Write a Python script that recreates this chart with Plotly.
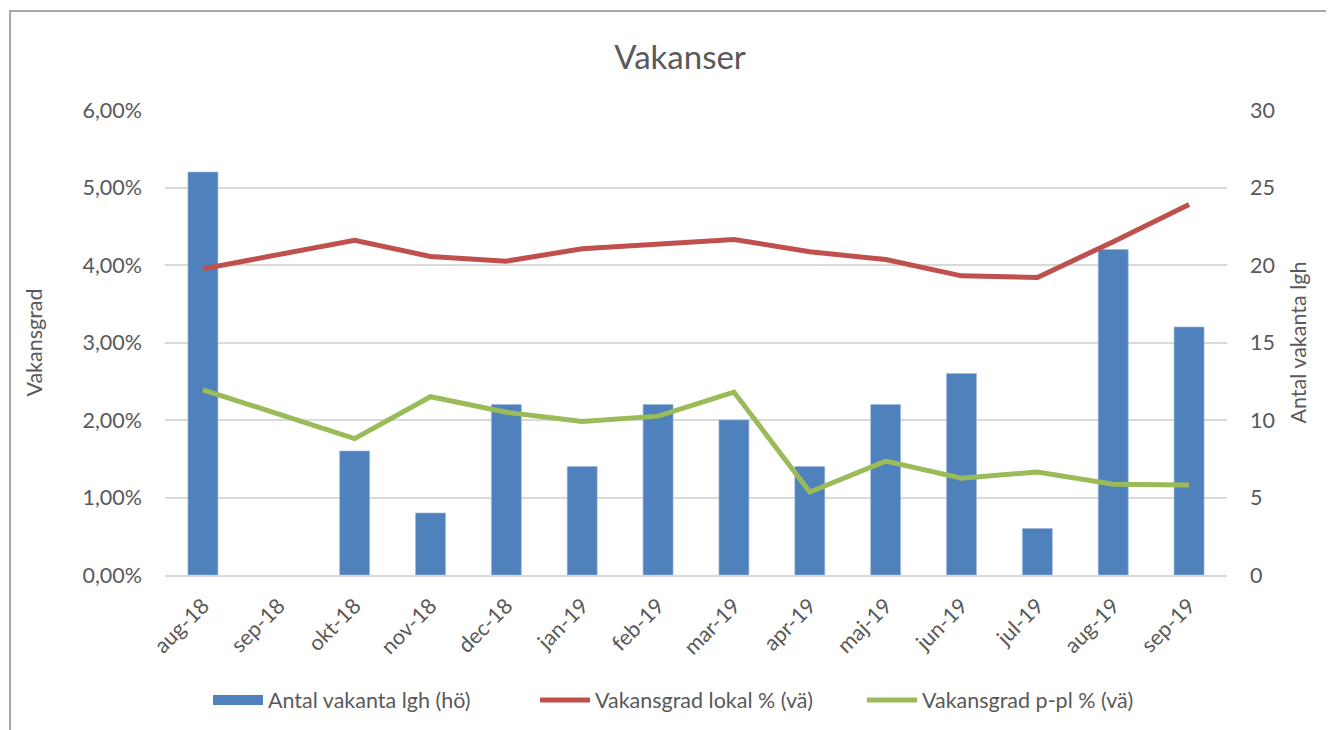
import plotly.graph_objects as go

months = ["aug-18", "sep-18", "okt-18", "nov-18", "dec-18", "jan-19", "feb-19",
          "mar-19", "apr-19", "maj-19", "jun-19", "jul-19", "aug-19", "sep-19"]
antal_vakanta = [26, None, 8, 4, 11, 7, 11, 10, 7, 11, 13, 3, 21, 16]
vakansgrad_lokal = [0.0395, None, 0.0432, 0.0411, 0.0405, 0.0421, 0.0427,
                    0.0433, 0.0417, 0.0407, 0.0386, 0.0384, 0.0430, 0.0478]
vakansgrad_ppl = [0.0239, None, 0.0176, 0.0230, 0.0210, 0.0198, 0.0205,
                  0.0236, 0.0107, 0.0147, 0.0125, 0.0133, 0.0117, 0.0116]

FONT = "Lato"
TXT = "#595959"
GRID = "#D9D9D9"
BLUE = "#4F81BD"

# page offset compensation (browser body margin)
OFF = 8
L, T, PW, PH = 165 - OFF, 110 - OFF, 1062, 465

fig = go.Figure()
fig.add_trace(go.Bar(
    x=months, y=antal_vakanta, name="Antal vakanta lgh (hö)",
    marker=dict(color=BLUE, line=dict(color="#9DB7DA", width=0.6)),
    yaxis="y", showlegend=False))
# legend swatch for the bars (wide rectangle like the original)
fig.add_trace(go.Scatter(
    x=[None], y=[None], name="Antal vakanta lgh (hö)", mode="lines",
    line=dict(color=BLUE, width=14), yaxis="y"))
fig.add_trace(go.Scatter(
    x=months, y=vakansgrad_lokal, name="Vakansgrad lokal % (vä)",
    mode="lines", line=dict(color="#C0504D", width=5), connectgaps=True,
    yaxis="y2"))
fig.add_trace(go.Scatter(
    x=months, y=vakansgrad_ppl, name="Vakansgrad p-pl % (vä)",
    mode="lines", line=dict(color="#9BBB59", width=5), connectgaps=True,
    yaxis="y2"))

fig.update_layout(
    width=1334, height=730,
    margin=dict(l=L, r=1334 - L - PW, t=T, b=730 - T - PH, autoexpand=False),
    paper_bgcolor="white", plot_bgcolor="white",
    separators=", ",
    font=dict(family=FONT, color=TXT, size=21),
    title=dict(text="Vakanser", x=0.485, xref="paper", xanchor="center",
               y=1 - (57 - OFF) / 730, yref="container", yanchor="middle",
               font=dict(size=33, color=TXT, family=FONT)),
    bargap=0.605,
    showlegend=True,
    legend=dict(orientation="h", x=(208 - 165) / PW, xanchor="left", xref="paper",
                y=-(700 - 575) / PH, yanchor="middle",
                font=dict(size=21.5, color=TXT),
                itemwidth=50, entrywidth=262, entrywidthmode="pixels",
                traceorder="normal"),
    xaxis=dict(type="category", tickangle=-45, showgrid=False,
               showline=True, linecolor=GRID, linewidth=1.5,
               tickfont=dict(size=21.5, color=TXT), ticks="", ticklabelstandoff=8),
    yaxis=dict(side="right", range=[0, 30], dtick=5, showgrid=True,
               gridcolor=GRID, gridwidth=1.5, zeroline=False,
               tickfont=dict(size=21.5, color=TXT), ticklabelstandoff=22,
               title=dict(text="Antal vakanta lgh", font=dict(size=21.5, color=TXT),
                          standoff=16)),
    yaxis2=dict(side="left", overlaying="y", range=[0, 0.06], dtick=0.01,
                tickformat=".2%", showgrid=False, zeroline=False,
                tickfont=dict(size=21.5, color=TXT), ticklabelstandoff=22,
                title=dict(text="Vakansgrad", font=dict(size=21.5, color=TXT),
                           standoff=33)),
)

# outer chart-area border
fig.add_shape(type="rect", xref="paper", yref="paper",
              x0=(10 - OFF - L) / PW, x1=1.3, y0=-0.6, y1=(T + PH - (11 - OFF)) / PH,
              line=dict(color="#8C8C8C", width=1.5), fillcolor="rgba(0,0,0,0)",
              layer="below")

fig.write_html("out.html")
